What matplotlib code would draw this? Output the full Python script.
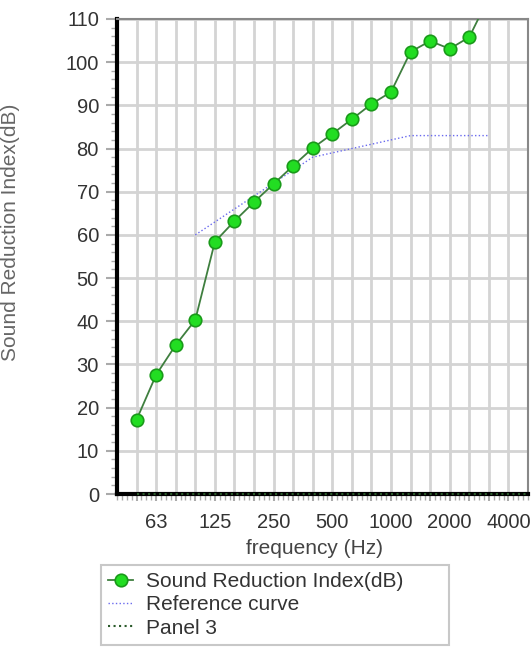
import matplotlib
matplotlib.use("Agg")
import matplotlib.pyplot as plt
from matplotlib.ticker import MultipleLocator, FixedLocator
import numpy as np

plt.rcParams['font.family'] = ['Liberation Sans', 'DejaVu Sans']

bands = ["50", "63", "80", "100", "125", "160", "200", "250", "315", "400", "500",
         "630", "800", "1000", "1250", "1600", "2000", "2500", "3150", "4000", "5000"]
sri = [17.2, 27.6, 34.5, 40.3, 58.4, 63.2, 67.6, 71.8, 76.0, 80.1, 83.4,
       86.8, 90.3, 93.1, 102.4, 104.9, 103.1, 105.8, 115.0]
ref_bands = ["100", "125", "160", "200", "250", "315", "400", "500", "630", "800",
             "1000", "1250", "1600", "2000", "2500", "3150"]
ref_vals = [60, 63, 66, 69, 72, 75, 78, 79, 80, 81, 82, 83, 83, 83, 83, 83]
panel3_vals = [0] * len(bands)
tick_labels = ["63", "125", "250", "500", "1000", "2000", "4000"]

idx = {b: i for i, b in enumerate(bands)}

fig = plt.figure(figsize=(5.31, 6.57), dpi=100)
ax = fig.add_axes([117/531, 1-494/657, (528-117)/531, (494-19)/657])

ax.set_xlim(-1, 20)
ax.set_ylim(0, 110)

ax.xaxis.set_major_locator(FixedLocator(range(0, 20)))
ax.grid(True, which='major', color='#d4d4d4', linewidth=2.0)
ax.set_axisbelow(True)
ax.set_xticklabels([b if b in tick_labels else "" for b in bands[:20]])
ax.xaxis.set_minor_locator(MultipleLocator(0.25))
ax.yaxis.set_major_locator(MultipleLocator(10))
ax.yaxis.set_minor_locator(MultipleLocator(2))

ax.tick_params(axis='both', which='major', labelsize=14.5, labelcolor='#333333',
               color='#aaaaaa', width=1.5, length=8)
ax.tick_params(axis='both', which='minor', color='#aaaaaa', width=1, length=4)
ax.tick_params(axis='x', which='major', length=5, pad=9)
ax.tick_params(axis='y', which='major', pad=5)

for s in ['top', 'right']:
    ax.spines[s].set_color('#888888')
    ax.spines[s].set_linewidth(1.5)
ax.spines['left'].set_color('black')
ax.spines['left'].set_linewidth(3)
ax.spines['bottom'].set_color('black')
ax.spines['bottom'].set_linewidth(3)

x_sri = [idx[b] for b in bands[:len(sri)]]
ax.plot(x_sri, sri, color='#3f7f3f', linewidth=1.3, marker='o', markersize=9,
        markerfacecolor='#22dd22', markeredgecolor='#1a9a1a', markeredgewidth=1.2,
        label='Sound Reduction Index(dB)', zorder=4, clip_on=True)
ax.plot([idx[b] for b in ref_bands], ref_vals, color='#6a6aee', linewidth=1.0,
        linestyle=':', label='Reference curve', zorder=3)
ax.plot([idx[b] for b in bands], panel3_vals, color='#2a5a2a', linewidth=1.5,
        linestyle=':', label='Panel 3', zorder=3, clip_on=False)

ax.set_xlabel('frequency (Hz)', fontsize=15, color='#444444')
ax.set_ylabel('Sound Reduction Index(dB)', fontsize=15, color='#666666')
ax.xaxis.set_label_coords((315-117)/411, (494-539)/475)
ax.yaxis.set_label_coords((20-117)/411, (494-232)/475)

leg = fig.legend(loc='upper left',
                 bbox_to_anchor=(101/531, 1-565/657, 348/531, 0),
                 bbox_transform=fig.transFigure, mode='expand', fontsize=15,
                 frameon=True, fancybox=False, edgecolor='#bbbbbb',
                 handlelength=1.2, handletextpad=0.6, borderpad=0.35,
                 labelspacing=0.2, borderaxespad=0)
leg.get_frame().set_linewidth(1.5)
for t in leg.get_texts():
    t.set_color('#333333')

fig.savefig('out.png', dpi=100)
